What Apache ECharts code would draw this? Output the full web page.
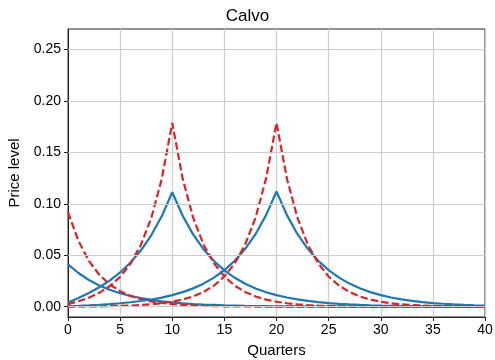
<!DOCTYPE html>
<html>
<head>
<meta charset="utf-8">
<script src="https://cdn.jsdelivr.net/npm/echarts@6/dist/echarts.min.js"></script>
<style>html,body{margin:0;padding:0;background:#fff}#c{width:495px;height:360px}</style>
</head>
<body>
<div id="c"></div>
<script>
const quarters = [0,1,2,3,4,5,6,7,8,9,10,11,12,13,14,15,16,17,18,19,20,21,22,23,24,25,26,27,28,29,30,31,32,33,34,35,36,37,38,39,40];
const yTicks = [0, 0.05, 0.10, 0.15, 0.20, 0.25];
const xTicks = [0,5,10,15,20,25,30,35,40];

const blueShock0 = [0.0412,0.0328,0.0260,0.0207,0.0165,0.0131,0.0104,0.0083,0.0066,0.0052,0.0042,0.0033,0.0026,0.0021,0.0017,0.0013,0.0011,0.0008,0.0007,0.0005,0.0004,0.0003,0.0003,0.0002,0.0002,0.0001,0.0001,0.0001,0.0001,0.0001,0.0001,0,0,0,0,0,0,0,0,0,0];
const blueShock10 = [0.00416,0.00853,0.01336,0.01889,0.02542,0.03330,0.04294,0.05485,0.06964,0.08813,0.11128,0.08847,0.07032,0.05592,0.04445,0.03535,0.02810,0.02233,0.01776,0.01412,0.01123,0.00893,0.00710,0.00564,0.00448,0.00356,0.00283,0.00226,0.00179,0.00143,0.00114,0.00091,0.00072,0.00057,0.00046,0.00036,0.00029,0.00022,0.00018,0.00015,0.00011];
const blueShock20 = [0.00043,0.00086,0.00134,0.00192,0.00256,0.00336,0.00433,0.00553,0.00703,0.00889,0.01123,0.01416,0.01783,0.02244,0.02825,0.03555,0.04472,0.05627,0.07077,0.08903,0.11200,0.08904,0.07078,0.05628,0.04474,0.03557,0.02828,0.02248,0.01788,0.01421,0.01130,0.00898,0.00715,0.00568,0.00451,0.00358,0.00286,0.00227,0.00180,0.00143,0.00114];
const redShock0 = [0.0919,0.0641,0.0446,0.0311,0.0217,0.0151,0.0105,0.0073,0.0051,0.0036,0.0025,0.0017,0.0012,0.0008,0.0006,0.0004,0.0003,0.0002,0.0001,0.0001,0.0001,0,0,0,0,0,0,0,0,0,0,0,0,0,0,0,0,0,0,0,0];
const redShock10 = [0.00250,0.00529,0.00881,0.01349,0.01994,0.02900,0.04191,0.06033,0.08669,0.12446,0.17863,0.12450,0.08678,0.06049,0.04217,0.02940,0.02050,0.01428,0.00995,0.00693,0.00484,0.00338,0.00234,0.00164,0.00114,0.00079,0.00055,0.00039,0.00027,0.00018,0.00013,0.00009,0.00007,0.00005,0.00004,0.00002,0.00001,0.00001,0.00001,0,0];
const redShock20 = [0.00005,0.00013,0.00023,0.00038,0.00054,0.00079,0.00114,0.00164,0.00234,0.00338,0.00484,0.00693,0.00995,0.01428,0.02050,0.02940,0.04217,0.06051,0.08681,0.12455,0.17870,0.12455,0.08681,0.06051,0.04217,0.02940,0.02050,0.01428,0.00995,0.00693,0.00484,0.00338,0.00234,0.00164,0.00114,0.00079,0.00055,0.00039,0.00027,0.00018,0.00013];

const FONT = '"Liberation Sans", Arial, sans-serif';
const BLUE = '#1f77b4', RED = '#d62728';
const pairs = v => quarters.map((q, i) => [q, v[i]]);

function lineSeries(vals, color, dashed) {
  return {
    type: 'line', data: pairs(vals), showSymbol: false, symbol: 'none',
    smooth: false, silent: true, z: 3,
    lineStyle: { color: color, width: 2.2, type: dashed ? [7.4, 3.2] : 'solid', cap: 'butt' }
  };
}

const chart = echarts.init(document.getElementById('c'), null, { renderer: 'canvas' });
chart.setOption({
  animation: false,
  backgroundColor: '#ffffff',
  title: { text: 'Calvo', left: 'center', top: 3,
    textStyle: { fontFamily: FONT, fontSize: 17, fontWeight: 'normal', color: '#000' } },
  grid: { left: 68, right: 10, top: 29, bottom: 43, containLabel: false, outerBoundsMode: 'none',
    show: true, borderColor: '#222', borderWidth: 1, backgroundColor: 'transparent' },
  xAxis: {
    type: 'value', min: 0, max: 40, interval: 5,
    name: 'Quarters', nameLocation: 'middle', nameGap: 26,
    nameTextStyle: { fontFamily: FONT, fontSize: 15, color: '#000' },
    axisLine: { onZero: false, lineStyle: { color: '#222', width: 1 } },
    axisTick: { show: true, length: 4, inside: false, lineStyle: { color: '#222' } },
    axisLabel: { fontFamily: FONT, fontSize: 14, color: '#000', margin: 6 },
    splitLine: { show: true, lineStyle: { color: '#cccccc', width: 1.2 } }
  },
  yAxis: {
    type: 'value', min: -0.01, max: 0.27,
    name: 'Price level', nameLocation: 'middle', nameGap: 44,
    nameTextStyle: { fontFamily: FONT, fontSize: 15, color: '#000' },
    axisLine: { show: true, onZero: false, lineStyle: { color: '#222', width: 1 } },
    axisTick: { show: true, length: 4, inside: false, customValues: yTicks, lineStyle: { color: '#222' } },
    axisLabel: { fontFamily: FONT, fontSize: 14, color: '#000', margin: 7, customValues: yTicks,
      formatter: v => v.toFixed(2) },
    splitLine: { show: false }
  },
  series: [
    {
      type: 'line', data: [], silent: true, z: 1,
      markLine: {
        silent: true, symbol: 'none', animation: false,
        label: { show: false },
        lineStyle: { color: '#cccccc', width: 1.2, type: 'solid' },
        data: yTicks.map(v => ({ yAxis: v }))
      }
    },
    lineSeries(blueShock0, BLUE, false),
    lineSeries(redShock0, RED, true),
    lineSeries(blueShock10, BLUE, false),
    lineSeries(redShock10, RED, true),
    lineSeries(blueShock20, BLUE, false),
    lineSeries(redShock20, RED, true)
  ]
});
</script>
</body>
</html>
